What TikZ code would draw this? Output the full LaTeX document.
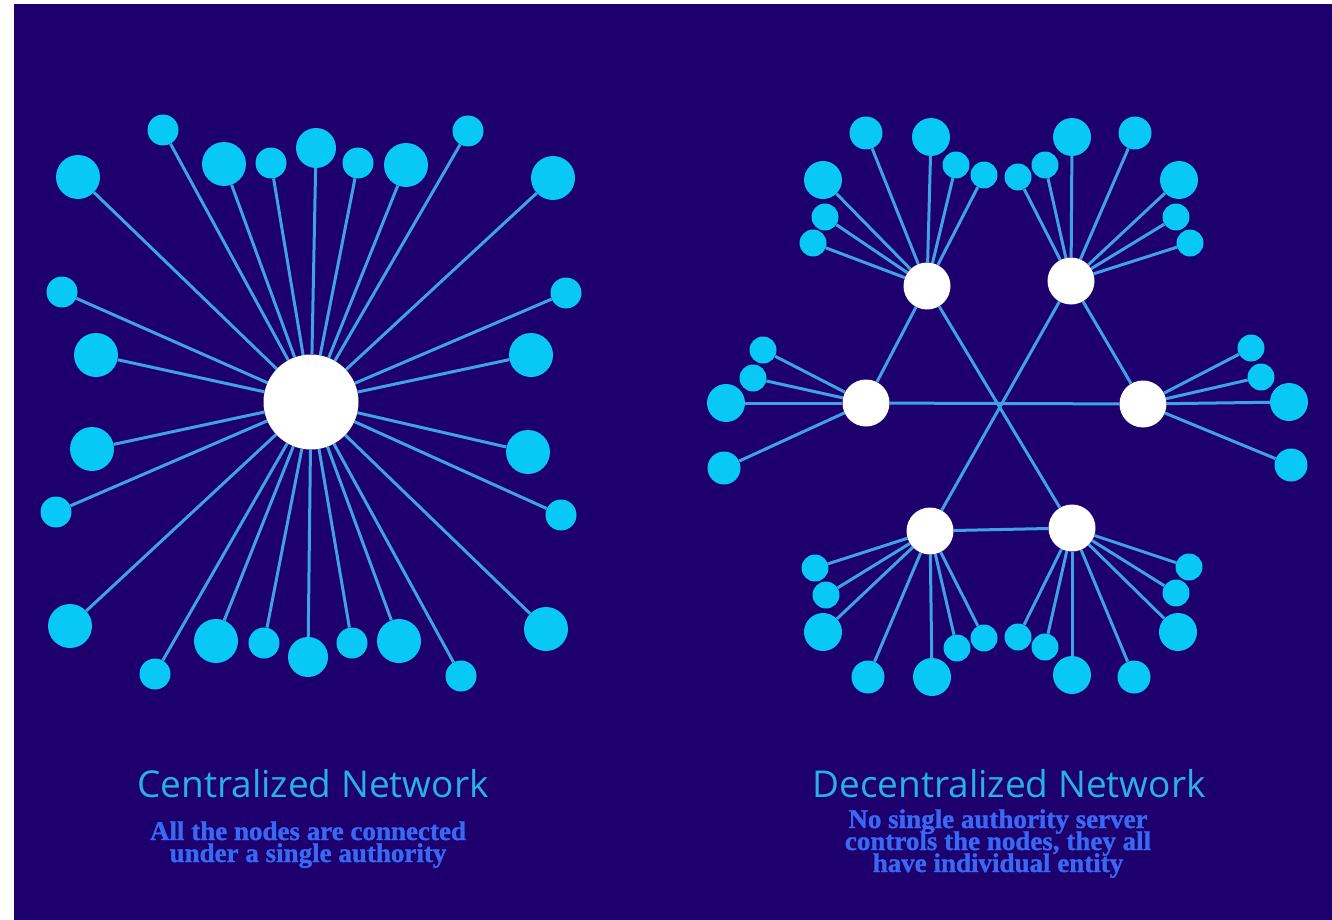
\documentclass[tikz,border=0pt]{standalone}
\usepackage{fontspec}
\newfontfamily\titlefont{Open Sans}
\newfontfamily\subfont{Liberation Serif}[BoldFeatures={FakeBold=1.2}]
\newcommand\tightlines{\lineskip=0pt\relax\lineskiplimit=-40pt\relax}
\definecolor{bgc}{RGB}{29,0,110}
\definecolor{leafc}{RGB}{8,200,245}
\definecolor{linec}{RGB}{62,162,228}
\definecolor{titlec}{RGB}{40,176,232}
\definecolor{subc}{RGB}{55,105,245}
\pgfdeclarelayer{bg}
\pgfsetlayers{bg,main}
\tikzset{
  leaf/.style={circle, fill=leafc, inner sep=0pt, minimum size=#1},
  hub/.style={circle, fill=white, inner sep=0pt, minimum size=#1},
  link/.style={draw=linec, line width=3pt},
  titletext/.style={text=titlec, font={\titlefont\fontsize{37}{40}\selectfont}, anchor=base, inner sep=0pt},
  subtext/.style={text=subc, font={\subfont\bfseries\fontsize{27}{22}\selectfont\tightlines}, align=center, anchor=base, inner sep=0pt}
}
\begin{document}
\begin{tikzpicture}[x=1pt,y=-1pt]
\useasboundingbox (0,0) rectangle (1332,920);
\begin{pgfonlayer}{bg}
  \fill[white] (0,0) rectangle (1332,920);
  \fill[bgc] (14,4) rectangle (1332,920);
\end{pgfonlayer}

% ---------- centralized ----------
\node[hub=95] (C) at (311,402) {};
\foreach \n/\x/\y/\d in {
  1/163/130/31, 2/78/177/44, 3/224/164/44, 4/271/163/31, 5/316/148/40,
  6/358/163/31, 7/406/165/44, 8/468/131/31, 9/553/178/44,
  10/62/292/31, 11/96/355/44, 12/92/449/44, 13/56/512/31, 14/70/626/44,
  15/566/293/31, 16/531/355/44, 17/528/452/44, 18/561/515/31, 19/546/629/44,
  20/155/674/31, 21/216/641/44, 22/264/643/31, 23/308/657/40,
  24/352/643/31, 25/399/641/44, 26/461/676/31}
{ \node[leaf=\d] (l\n) at (\x,\y) {}; }
\begin{pgfonlayer}{bg}
  \foreach \n in {1,...,26} { \draw[link] (C) -- (l\n); }
\end{pgfonlayer}

% ---------- decentralized ----------
\node[hub=47] (H1) at (927,286) {};
\node[hub=47] (H2) at (1071,281) {};
\node[hub=47] (H3) at (866,403) {};
\node[hub=47] (H4) at (1143,404) {};
\node[hub=47] (H5) at (930,531) {};
\node[hub=47] (H6) at (1072,528) {};

\foreach \n/\x/\y/\d in {
  1/866/133/33, 2/931/137/38, 3/956/165/27, 4/984/175/27,
  5/823/180/38, 6/825/217/27, 7/813/243/27}
{ \node[leaf=\d] (a\n) at (\x,\y) {}; }
\foreach \n/\x/\y/\d in {
  1/1018/177/27, 2/1045/165/27, 3/1072/137/38, 4/1135/133/33,
  5/1179/180/38, 6/1176/217/27, 7/1190/243/27}
{ \node[leaf=\d] (b\n) at (\x,\y) {}; }
\foreach \n/\x/\y/\d in {
  1/763/350/27, 2/753/378/27, 3/726/403/38, 4/724/468/33}
{ \node[leaf=\d] (c\n) at (\x,\y) {}; }
\foreach \n/\x/\y/\d in {
  1/1251/348/27, 2/1261/377/27, 3/1289/402/38, 4/1291/465/33}
{ \node[leaf=\d] (d\n) at (\x,\y) {}; }
\foreach \n/\x/\y/\d in {
  1/815/568/27, 2/826/595/27, 3/823/632/38, 4/868/677/33,
  5/932/677/38, 6/957/648/27, 7/984/638/27}
{ \node[leaf=\d] (e\n) at (\x,\y) {}; }
\foreach \n/\x/\y/\d in {
  1/1018/637/27, 2/1045/647/27, 3/1072/675/38, 4/1134/677/33,
  5/1178/632/38, 6/1176/593/27, 7/1189/567/27}
{ \node[leaf=\d] (f\n) at (\x,\y) {}; }

\begin{pgfonlayer}{bg}
  \draw[link] (H3) -- (H4);
  \draw[link] (H1) -- (H6);
  \draw[link] (H2) -- (H5);
  \draw[link] (H1) -- (H3);
  \draw[link] (H2) -- (H4);
  \draw[link] (H5) -- (H6);
  \foreach \n in {1,...,7} { \draw[link] (H1) -- (a\n); \draw[link] (H2) -- (b\n);
                             \draw[link] (H5) -- (e\n); \draw[link] (H6) -- (f\n); }
  \foreach \n in {1,...,4} { \draw[link] (H3) -- (c\n); \draw[link] (H4) -- (d\n); }
\end{pgfonlayer}

% ---------- texts ----------
\node[titletext] (t1) at (313,797) {Centralized Network};
\node[subtext] (s1) at (308,862) {All the nodes are connected\\under a single authority};
\node[titletext] (t2) at (1009,797) {Decentralized Network};
\node[subtext] (s2) at (998,872) {No single authority server\\controls the nodes, they all\\have individual entity};
\end{tikzpicture}
\end{document}
